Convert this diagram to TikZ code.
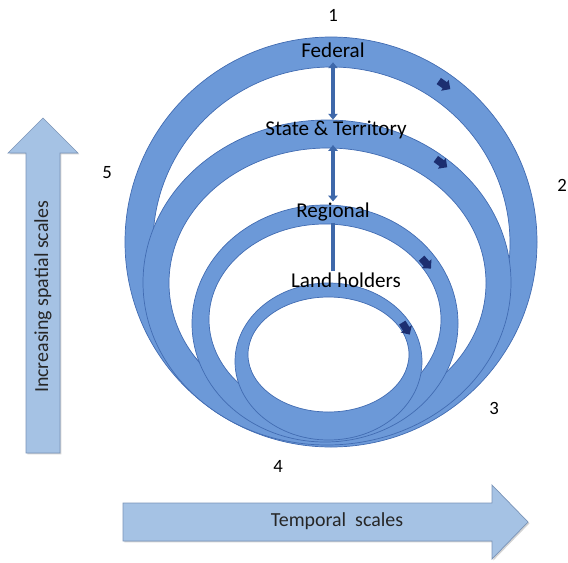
\documentclass[tikz,border=0pt]{standalone}
\usepackage{fontspec}
\setmainfont{Carlito}
\usetikzlibrary{positioning,arrows.meta,shapes.arrows,shadows}
\definecolor{ringblue}{RGB}{108,153,216}
\definecolor{ringedge}{RGB}{66,108,178}
\definecolor{arrowfill}{RGB}{165,194,228}
\definecolor{arrowedge}{RGB}{122,148,184}
\definecolor{navy}{RGB}{28,46,112}
\definecolor{linkblue}{RGB}{62,104,170}

\begin{document}
\begin{tikzpicture}[x=0.03cm, y=-0.03cm,
    ring/.style={fill=ringblue, draw=ringedge, line width=0.6pt, even odd rule},
    level node/.style={font=\fontsize{18}{20}\selectfont, inner sep=1pt},
    number node/.style={font=\fontsize{16}{18}\selectfont},
    axis node/.style={font=\fontsize{17}{19}\selectfont, text=black!85},
    big arrow/.style={fill=arrowfill, draw=arrowedge, line width=0.6pt,
                      drop shadow={shadow xshift=1.2pt, shadow yshift=-1.2pt, opacity=0.35}},
    link/.style={draw=linkblue, line width=3pt,
                 {Triangle[length=5pt,width=8pt]}-{Triangle[length=5pt,width=8pt]}},
    turn/.style={single arrow, fill=navy, minimum height=12pt, inner sep=3pt,
                 single arrow head extend=2.5pt}]

\useasboundingbox (0,0) rectangle (568,562);

% the four rings, outside in
\path[ring] (331,242) ellipse [x radius=206, y radius=205]
            (331.5,243.5) ellipse [x radius=178.5, y radius=176.5];
\path[ring] (327,282.5) ellipse [x radius=184, y radius=162.5]
            (327.5,283) ellipse [x radius=158.5, y radius=135];
\path[ring] (325,323.5) ellipse [x radius=133, y radius=118.5]
            (325,319.5) ellipse [x radius=116, y radius=95.5];
\path[ring] (328.5,361.5) ellipse [x radius=93.5, y radius=78.5]
            (328.5,354.5) ellipse [x radius=80.5, y radius=57.5];

% levels
\node[level node] (fed) at (333,50) {Federal};
\node[level node] (state) at (336,130) {State \& Territory};
\node[level node] (reg) at (333,212) {Regional};
\node[level node] (land) at (346,280) {Land holders};

\draw[link, shorten <=3pt] (fed.south) -- (fed.south |- state.north);
\draw[link, shorten <=4pt] (reg.north |- state.south) -- (reg.north);
\draw[draw=linkblue, line width=3pt] (reg.south) -- (reg.south |- land.north);

% direction marks on the rings
\node[turn, rotate=-35] (t1) at (443,84) {};
\node[turn, rotate=-36] (t2) at (440,162) {};
\node[turn, rotate=-48] (t3) at (425,262) {};
\node[turn, rotate=-58] (t4) at (405,327) {};

\node[number node] (n1) at (333,15) {1};
\node[number node] (n2) at (562,185) {2};
\node[number node] (n3) at (494,408) {3};
\node[number node] (n4) at (278,466) {4};
\node[number node] (n5) at (107,173) {5};

% axes
\draw[big arrow] (26,453) -- (26,153) -- (8,153) -- (43,118) -- (78,153) -- (60,153) -- (60,453) -- cycle;
\node[axis node, rotate=90] (spatial) at (43,297) {Increasing spatial scales};

\draw[big arrow] (123,503) -- (492,503) -- (492,485) -- (528,522) -- (492,559) -- (492,541) -- (123,541) -- cycle;
\node[axis node] (temporal) at (337,521) {Temporal\ \ scales};

\end{tikzpicture}
\end{document}
